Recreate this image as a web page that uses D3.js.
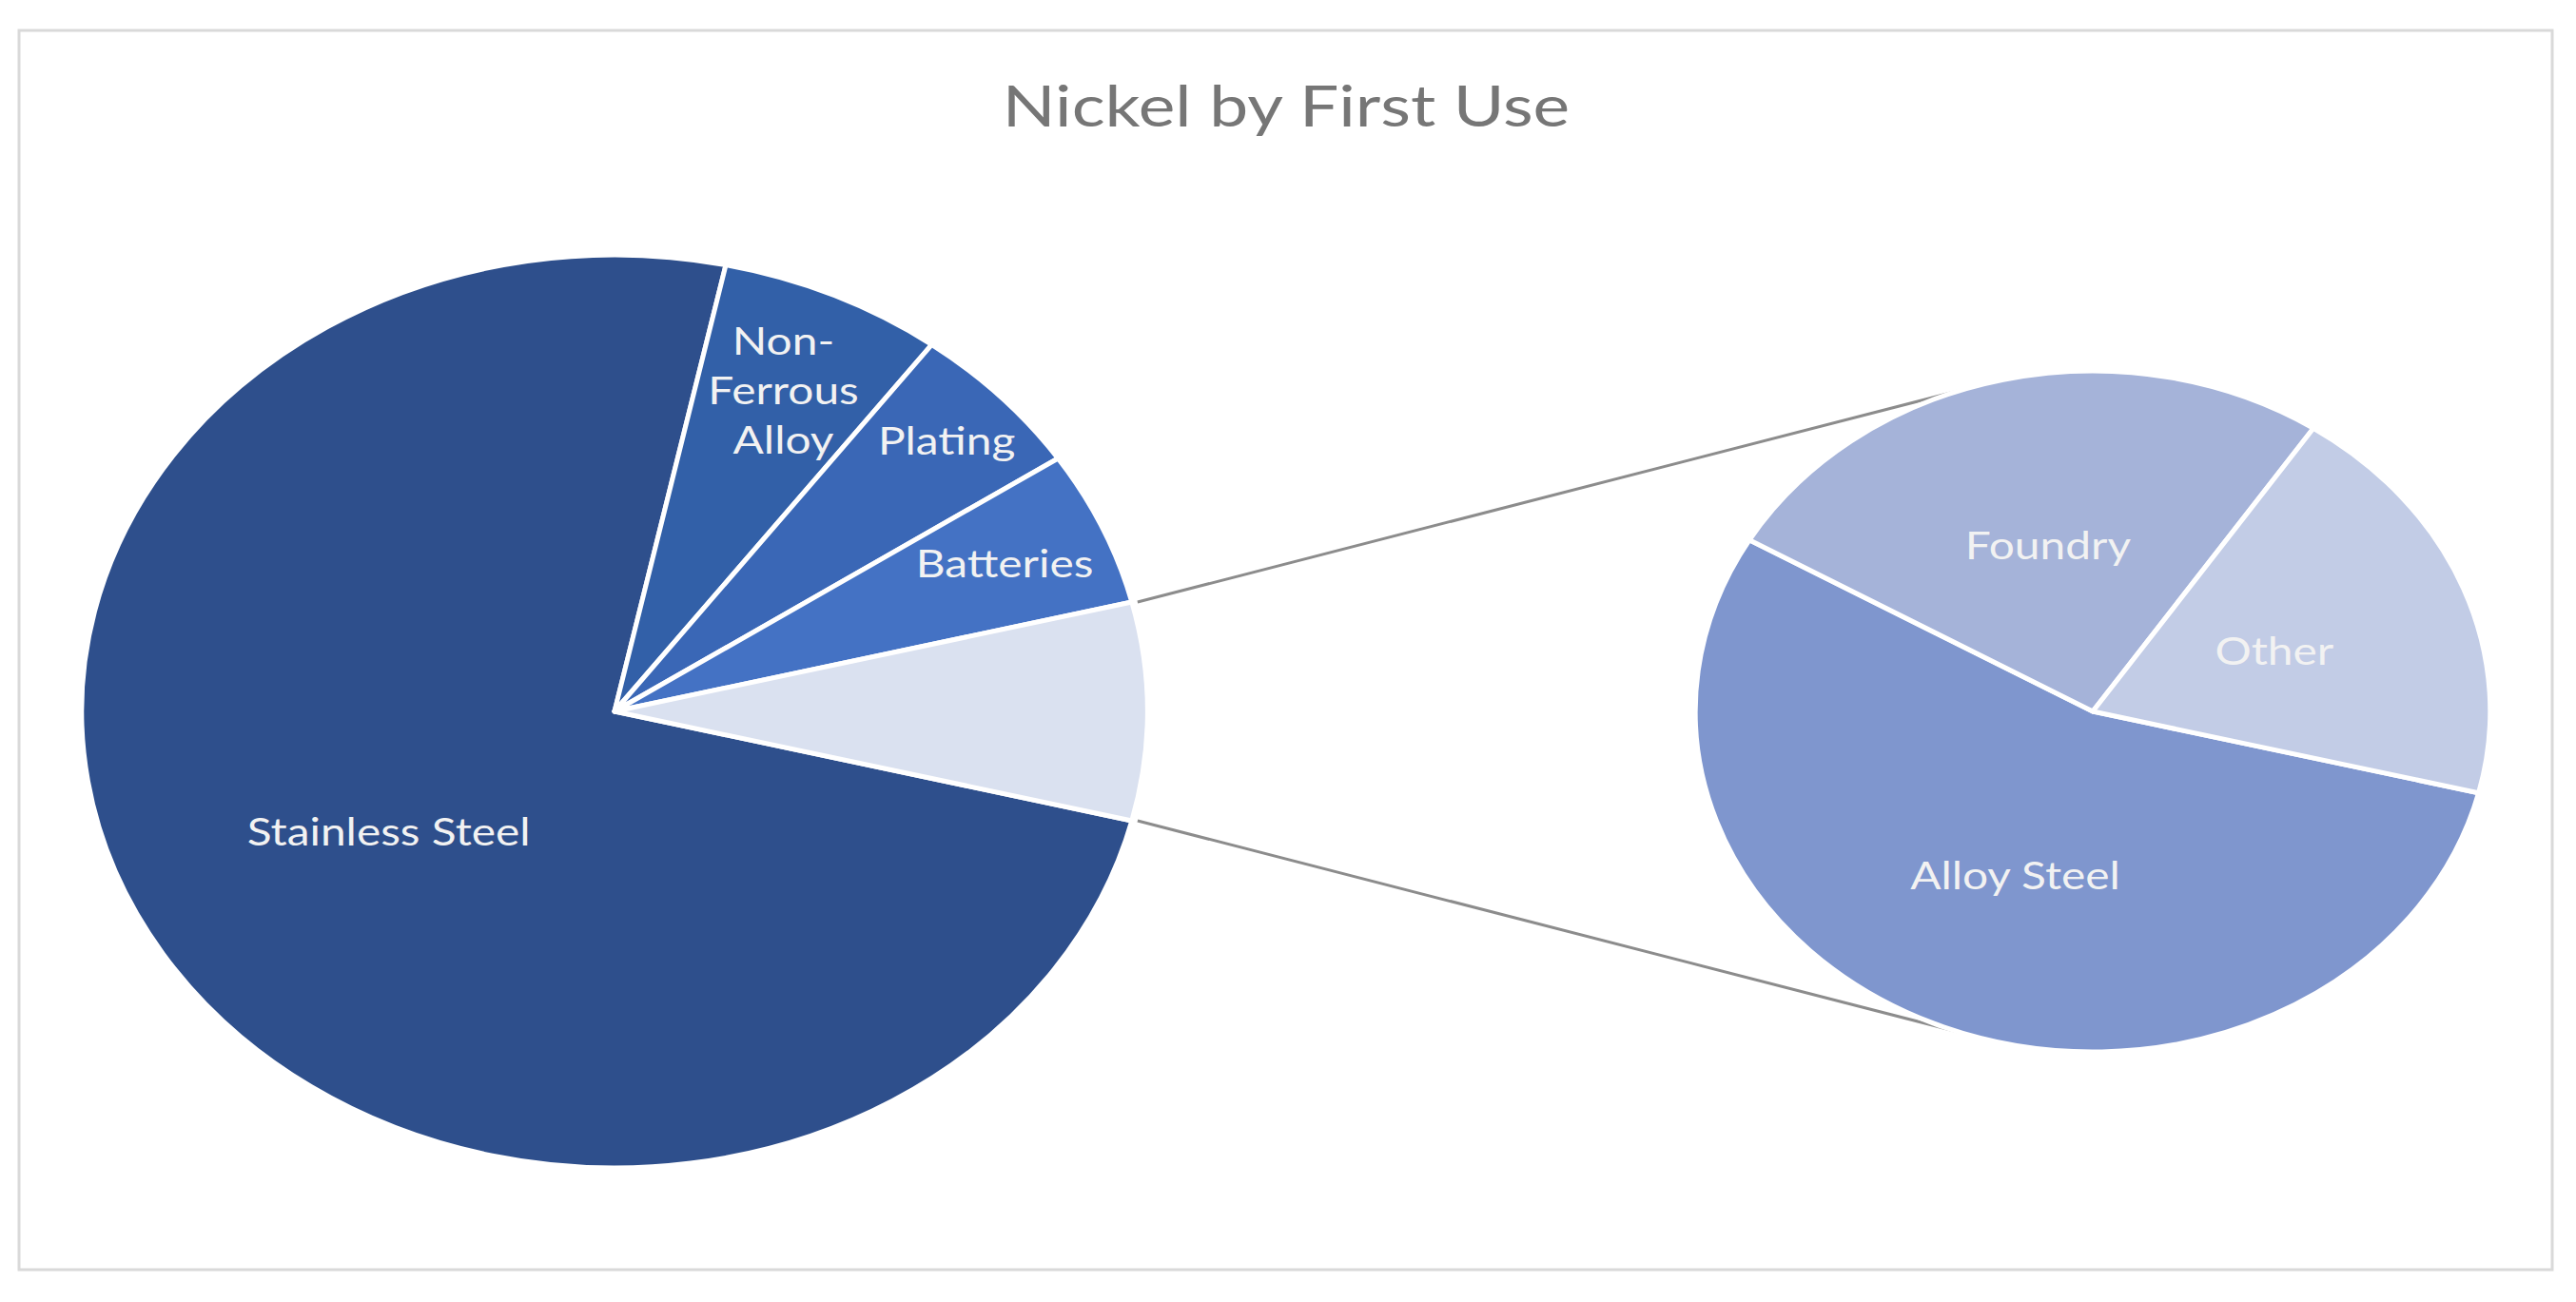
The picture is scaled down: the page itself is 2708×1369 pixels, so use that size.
<!DOCTYPE html>
<html>
<head>
<title>Nickel by First Use</title>
<script src="https://d3js.org/d3.v7.min.js"></script>
<style>
  body { margin: 0; background: #fff; }
  text { font-family: Lato, "Open Sans", sans-serif; }
</style>
</head>
<body>
<div id="chart"></div>
<script>
// primary pie (last entry is the group broken out into the second pie)
const mainLabels = ["Stainless Steel", "Non-Ferrous Alloy", "Plating", "Batteries"];
const mainValues = [74.5, 6.8, 5.5, 5.5];
const mainColors = ["#2E4F8C", "#3260A8", "#3A67B6", "#4472C4"];

// secondary pie
const subLabels = ["Alloy Steel", "Foundry", "Other"];
const subValues = [4.2, 2.0, 1.5];
const subColors = ["#7F96CE", "#A5B3D9", "#C2CCE6"];
const groupColor = "#DAE1F0";

const W = 2708, H = 1369;
const sx = 1.167;                 // the chart is stretched horizontally
const left = { cx: 646, cy: 748, r: 480 };
const right = { cx: 2200, cy: 748, r: 358 };
const connAngle = 19.5 * Math.PI / 180;

const svg = d3.select("#chart").append("svg")
  .attr("width", W).attr("height", H);

svg.append("rect")
  .attr("x", 20).attr("y", 32).attr("width", 2663).attr("height", 1303)
  .attr("fill", "#fff").attr("stroke", "#D9D9D9").attr("stroke-width", 3);

svg.append("text")
  .attr("transform", "translate(1352,133) scale(1.22,1)")
  .attr("text-anchor", "middle")
  .style("font-size", "60px")
  .style("fill", "#767676")
  .text("Nickel by First Use");

const groupTotal = d3.sum(subValues);
const primary = mainLabels.map((l, i) => ({ label: l, value: mainValues[i], color: mainColors[i] }))
  .concat([{ label: "", value: groupTotal, color: groupColor }]);
const secondary = subLabels.map((l, i) => ({ label: l, value: subValues[i], color: subColors[i] }));

const total = d3.sum(primary, d => d.value);
const groupAngle = groupTotal / total * 2 * Math.PI;
const start = Math.PI / 2 + groupAngle / 2;

const pie = d3.pie().sort(null).value(d => d.value)
  .startAngle(start).endAngle(start + 2 * Math.PI);

const arcsL = pie(primary);
const arcsR = pie(secondary);

// label radius as fraction of the pie radius
const labelPosL = [0.5, 0.77, 0.86, 0.8, 0];
const labelPosR = [0.52, 0.5, 0.49];

function pt(c, a, rr) {
  return [c.cx + sx * rr * Math.sin(a), c.cy - rr * Math.cos(a)];
}

// connector lines
const gA = arcsL[arcsL.length - 1];
const conn = [
  [pt(left, gA.startAngle, left.r), pt(right, -connAngle, right.r)],
  [pt(left, gA.endAngle, left.r), pt(right, Math.PI + connAngle, right.r)]
];
svg.append("g").selectAll("line").data(conn).enter().append("line")
  .attr("x1", d => d[0][0] + 6).attr("y1", d => d[0][1])
  .attr("x2", d => d[1][0]).attr("y2", d => d[1][1])
  .attr("stroke", "#8C8C8C").attr("stroke-width", 3);

function drawPie(c, arcs, pos) {
  const arc = d3.arc().innerRadius(0).outerRadius(c.r);
  const g = svg.append("g")
    .attr("transform", `translate(${c.cx},${c.cy}) scale(${sx},1)`);
  g.selectAll("path").data(arcs).enter().append("path")
    .attr("d", arc)
    .attr("fill", d => d.data.color)
    .attr("stroke", "#fff")
    .attr("stroke-width", 5)
    .attr("vector-effect", "non-scaling-stroke")
    .attr("stroke-linejoin", "round");

  const labels = svg.append("g");
  arcs.forEach((d, i) => {
    if (!d.data.label) return;
    const mid = (d.startAngle + d.endAngle) / 2;
    const p = pt(c, mid, c.r * pos[i]);
    const lines = d.data.label === "Non-Ferrous Alloy" ? ["Non-", "Ferrous", "Alloy"] : [d.data.label];
    const t = labels.append("text")
      .attr("transform", `translate(${p[0]},${p[1]}) scale(${sx},1)`)
      .attr("text-anchor", "middle")
      .style("font-size", "41px")
      .style("fill", "#F2F2F2");
    lines.forEach((ln, j) => {
      t.append("tspan")
        .attr("x", 0)
        .attr("y", 14 + (j - (lines.length - 1) / 2) * 52)
        .text(ln);
    });
  });
}

drawPie(left, arcsL, labelPosL);
drawPie(right, arcsR, labelPosR);
</script>
</body>
</html>
